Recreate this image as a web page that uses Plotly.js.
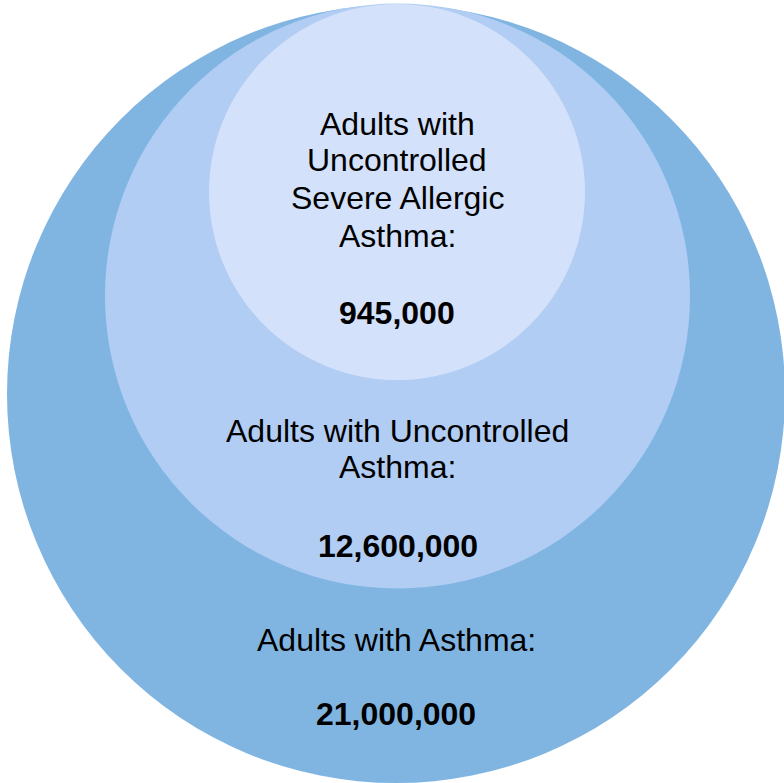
<!DOCTYPE html>
<html>
<head>
<meta charset="utf-8">
<script src="https://cdn.plot.ly/plotly-3.0.1.min.js"></script>
<style>html,body{margin:0;padding:0;background:#fff;}#chart{width:784px;height:783px;}</style>
</head>
<body>
<div id="chart"></div>
<script>
// Data
const groupNames = ["Adults with Asthma", "Adults with Uncontrolled Asthma", "Adults with Uncontrolled Severe Allergic Asthma"];
const groupLabelLines = [
  ["Adults with Asthma:"],
  ["Adults with Uncontrolled", "Asthma:"],
  ["Adults with", "Uncontrolled", "Severe Allergic", "Asthma:"]
];
const groupValues = [21000000, 12600000, 945000];

// Layout (positions/styles)
const circles = [
  {cx: 396, cy: 394, r: 389, color: "#80b5e2"},
  {cx: 397.5, cy: 296, r: 292.5, color: "#b1cdf4"},
  {cx: 397, cy: 192, r: 188, color: "#d3e1fa"}
];
const labelLineY = [[640], [431, 467], [124, 160, 198, 236]];
const valueY = [714, 546, 313];
const lineFont = {family: "Liberation Sans, Arial, sans-serif", size: 32, color: "#000000"};
const valueFont = {family: "Liberation Sans, Arial, sans-serif", size: 32, color: "#000000", weight: "bold"};

const shapes = circles.map(c => ({
  type: "circle", xref: "x", yref: "y",
  x0: c.cx - c.r, x1: c.cx + c.r, y0: c.cy - c.r, y1: c.cy + c.r,
  fillcolor: c.color, line: {width: 0}, layer: "below"
}));

const annotations = [];
groupLabelLines.forEach((lines, i) => {
  lines.forEach((t, j) => {
    annotations.push({x: circles[i].cx, y: labelLineY[i][j], xref: "x", yref: "y", text: t,
      showarrow: false, xanchor: "center", yanchor: "middle", font: lineFont});
  });
  annotations.push({x: circles[i].cx, y: valueY[i], xref: "x", yref: "y",
    text: "<b>" + groupValues[i].toLocaleString("en-US") + "</b>",
    showarrow: false, xanchor: "center", yanchor: "middle", font: valueFont});
});

const trace = {x: circles.map(c => c.cx), y: circles.map(c => c.cy), mode: "markers",
  marker: {opacity: 0}, hoverinfo: "skip", text: groupNames, showlegend: false, type: "scatter"};

const layout = {
  width: 784, height: 783,
  margin: {l: 0, r: 0, t: 0, b: 0},
  paper_bgcolor: "#ffffff", plot_bgcolor: "#ffffff",
  xaxis: {range: [0, 784], visible: false, fixedrange: true},
  yaxis: {range: [783, 0], visible: false, fixedrange: true},
  shapes: shapes, annotations: annotations, showlegend: false
};
Plotly.newPlot("chart", [trace], layout, {displayModeBar: false, staticPlot: true});
</script>
</body>
</html>
